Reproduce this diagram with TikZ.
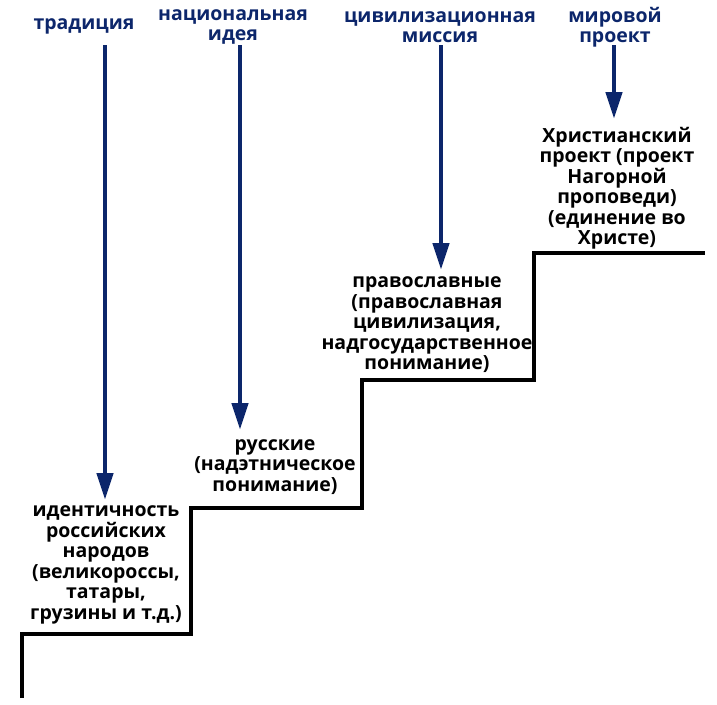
\documentclass[tikz,border=0pt]{standalone}
\usepackage{fontspec}
\setmainfont{Open Sans}
\usetikzlibrary{arrows.meta}
\definecolor{navy}{RGB}{12,38,107}
\tikzset{
  lab/.style={text=navy, font=\bfseries\fontsize{19.5}{20.5}\selectfont, align=center, inner sep=0pt},
  txt/.style={text=black, font=\bfseries\fontsize{19.5}{20.5}\selectfont, align=center, inner sep=0pt},
  arr/.style={draw=navy, line width=4.5pt, -{Triangle[width=16pt,length=27pt]}},
  stair/.style={draw=black, line width=3.6pt, line join=miter}
}
\begin{document}
\begin{tikzpicture}[x=1pt,y=-1pt]
\useasboundingbox (0,0) rectangle (717,704);
% top labels
\node[lab] (l1) at (84,26) {традиция};
\node[lab] (l2) at (233,27) {национальная\\идея};
\node[lab] (l3) at (440,27) {цивилизационная\\миссия};
\node[lab] (l4) at (615,27) {мировой\\проект};
% text blocks
\node[txt] (t1) at (106,565) {идентичность\\российских\\народов\\(великороссы,\\татары,\\грузины и т.д.)};
\node[txt] (t2) at (275,467) {русские\\(надэтническое\\понимание)};
\node[txt] (t3) at (427,325) {православные\\(православная\\цивилизация,\\надгосударственное\\понимание)};
\node[txt] (t4) at (617,188) {Христианский\\проект (проект\\Нагорной\\проповеди)\\(единение во\\Христе)};
% arrow endpoints
\coordinate (a1s) at (105,45); \coordinate (a1e) at (105,500);
\coordinate (a2s) at (240,45); \coordinate (a2e) at (240,430);
\coordinate (a3s) at (441,45); \coordinate (a3e) at (441,270);
\coordinate (a4s) at (614,45); \coordinate (a4e) at (614,119);
\draw[arr] (a1s) -- (a1e);
\draw[arr] (a2s) -- (a2e);
\draw[arr] (a3s) -- (a3e);
\draw[arr] (a4s) -- (a4e);
% staircase
\coordinate (s0) at (22,698);
\coordinate (s1) at (22,634);
\coordinate (s2) at (191,634);
\coordinate (s3) at (191,508);
\coordinate (s4) at (362,508);
\coordinate (s5) at (362,380);
\coordinate (s6) at (534,380);
\coordinate (s7) at (534,253);
\coordinate (s8) at (705,253);
\draw[stair] (s0) -- (s1) -- (s2) -- (s3) -- (s4) -- (s5) -- (s6) -- (s7) -- (s8);
\end{tikzpicture}
\end{document}
